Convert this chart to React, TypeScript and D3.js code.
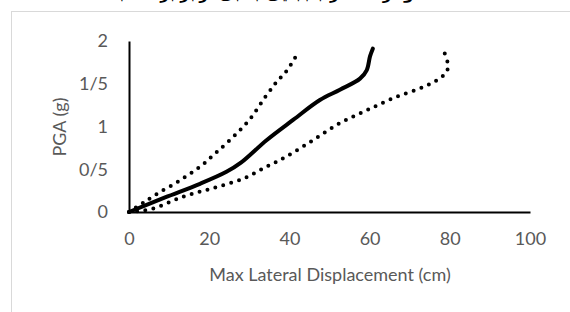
import React, { useRef, useEffect } from "react";
import * as d3 from "d3";

// displacement (cm) vs PGA (g)
const meanX = [0, 9, 17.7, 24.3, 28, 34.3, 41, 47.6, 52.6, 57.6, 59.3, 60.1, 60.8];
const meanY = [0, 0.17, 0.33, 0.47, 0.58, 0.84, 1.08, 1.31, 1.43, 1.56, 1.66, 1.82, 1.91];

const upperX = [0, 3.6, 7.3, 12.7, 17.7, 21.4, 26, 30.2, 33.9, 36.8, 39.3, 41.6];
const upperY = [0, 0.11, 0.22, 0.37, 0.53, 0.68, 0.88, 1.09, 1.34, 1.52, 1.65, 1.82];

const lowerX = [0, 6, 13.5, 21, 28.5, 34.3, 39.3, 45.9, 52.6, 59.3, 66.3, 73.8, 78, 79.4, 79.4, 78.7];
const lowerY = [0, 0.04, 0.18, 0.28, 0.39, 0.53, 0.65, 0.84, 1.04, 1.19, 1.34, 1.47, 1.58, 1.66, 1.76, 1.86];

const xTicks = [0, 20, 40, 60, 80, 100];
const yTicks = [0, 0.5, 1, 1.5, 2];
const yTickLabels = ["0", "0/5", "1", "1/5", "2"];

const title = "نمودار حداکثر جابجایی جانبی در برابر شتاب";

const App = () => {
  const svgRef = useRef(null);

  useEffect(() => {
    const w = 570;
    const h = 312;
    const svg = d3.select(svgRef.current);
    svg.selectAll("*").remove();

    const x = d3.scaleLinear().domain([0, 100]).range([129, 530]);
    const y = d3.scaleLinear().domain([0, 2]).range([212, 41]);
    const font = "Lato, 'Open Sans', sans-serif";

    svg.append("rect").attr("width", w).attr("height", h).attr("fill", "#fff");

    // chart box (runs past the right and bottom edges)
    svg.append("rect")
      .attr("x", 11.5).attr("y", 11.5)
      .attr("width", 700).attr("height", 400)
      .attr("fill", "none").attr("stroke", "#d9d9d9");

    // title, clipped by the top edge as in the source
    svg.append("text")
      .attr("x", 272).attr("y", -1)
      .attr("text-anchor", "middle")
      .attr("font-family", "'Noto Sans', 'DejaVu Sans', sans-serif")
      .attr("font-weight", "bold")
      .attr("font-size", 15)
      .attr("fill", "#000")
      .text(title);

    // axes
    svg.append("g")
      .attr("transform", `translate(0,${y(0)})`)
      .call(d3.axisBottom(x).tickValues(xTicks).tickSize(0).tickPadding(20))
      .call(g => g.select(".domain").attr("stroke", "#000").attr("stroke-width", 2))
      .call(g => g.selectAll("text").attr("font-size", 18).attr("font-family", font).attr("fill", "#595959"));

    svg.append("g")
      .attr("transform", `translate(${x(0)},0)`)
      .call(d3.axisLeft(y).tickValues(yTicks).tickSize(0).tickPadding(21)
        .tickFormat((d, i) => yTickLabels[i]))
      .call(g => g.select(".domain").attr("stroke", "#000").attr("stroke-width", 2))
      .call(g => g.selectAll("text").attr("font-size", 18).attr("font-family", font).attr("fill", "#595959"));

    svg.append("text")
      .attr("x", 330).attr("y", 281)
      .attr("text-anchor", "middle")
      .attr("font-family", font).attr("font-size", 18).attr("fill", "#595959")
      .text("Max Lateral Displacement (cm)");

    svg.append("text")
      .attr("transform", "translate(66,127) rotate(-90)")
      .attr("text-anchor", "middle")
      .attr("font-family", font).attr("font-size", 18).attr("fill", "#595959")
      .text("PGA (g)");

    const line = d3.line()
      .x(d => x(d[0]))
      .y(d => y(d[1]))
      .curve(d3.curveCatmullRom.alpha(0.5));

    const series = [
      { xs: upperX, ys: upperY, dotted: true },
      { xs: lowerX, ys: lowerY, dotted: true },
      { xs: meanX, ys: meanY, dotted: false },
    ];

    series.forEach(s => {
      const pts = s.xs.map((v, i) => [v, s.ys[i]]);
      svg.append("path")
        .attr("d", line(pts))
        .attr("fill", "none")
        .attr("stroke", "#000")
        .attr("stroke-width", 4)
        .attr("stroke-linecap", "round")
        .attr("stroke-linejoin", "round")
        .attr("stroke-dasharray", s.dotted ? "0 8.2" : null);
    });
  }, []);

  return (
    <svg ref={svgRef} width={570} height={312}
      style={{ position: "absolute", left: 0, top: 0 }} />
  );
};

export default App;
